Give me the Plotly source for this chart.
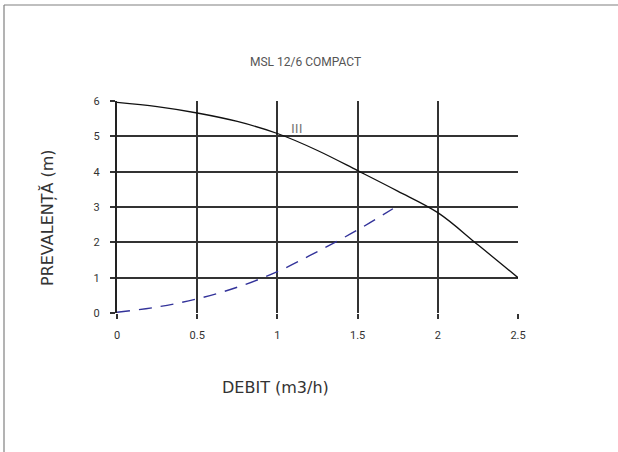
import plotly.graph_objects as go

# Data
pump_x = [0, 0.25, 0.5, 0.75, 1.0, 1.25, 1.5, 1.75, 2.0, 2.25, 2.5]
pump_y = [5.96, 5.84, 5.66, 5.42, 5.08, 4.60, 4.03, 3.45, 2.84, 1.93, 1.0]

sys_x = [0, 0.25, 0.5, 0.75, 1.0, 1.25, 1.5, 1.72]
sys_y = [0.02, 0.17, 0.40, 0.73, 1.17, 1.74, 2.35, 2.95]

x_ticks = [0, 0.5, 1, 1.5, 2, 2.5]
x_tick_labels = ["0", "0.5", "1", "1.5", "2", "2.5"]
y_ticks = [0, 1, 2, 3, 4, 5, 6]

chart_title = "MSL 12/6 COMPACT"
x_title = "DEBIT (m3/h)"
y_title = "PREVALENȚĂ (m)"
curve_label = "III"

fig = go.Figure()
fig.add_trace(go.Scatter(x=sys_x, y=sys_y, mode="lines",
                         line=dict(color="#33339a", width=1.4, dash="13px,9px", shape="spline"),
                         showlegend=False, hoverinfo="skip"))
fig.add_trace(go.Scatter(x=pump_x, y=pump_y, mode="lines",
                         line=dict(color="#111111", width=1.3, shape="spline"),
                         showlegend=False, hoverinfo="skip"))

grid = "#333333"
tickfont = dict(family="Roboto", size=11, color="#333333")
fig.update_xaxes(range=[0, 2.5], tickvals=x_ticks, ticktext=x_tick_labels,
                 showgrid=True, gridcolor=grid, gridwidth=1.5,
                 zeroline=False, showline=False,
                 ticks="outside", ticklen=5, tickwidth=1.5, tickcolor=grid,
                 ticklabelstandoff=7,
                 tickfont=tickfont, fixedrange=True)
fig.update_yaxes(range=[0, 6], tickvals=y_ticks,
                 showgrid=True, gridcolor=grid, gridwidth=1.5,
                 zeroline=False, showline=True, linecolor="#222222", linewidth=2,
                 ticks="outside", ticklen=5, tickwidth=1.5, tickcolor=grid,
                 ticklabelstandoff=8,
                 tickfont=tickfont, fixedrange=True)

L, R, T, B = 117, 100, 101, 139
W, H = 618, 452
pw, ph = W - L - R, H - T - B

def px(x):
    return (x - L) / pw

def py(y):
    return (H - B - y) / ph

annotations = [
    dict(x=px(305.5), y=py(62), xref="paper", yref="paper", text=chart_title,
         xanchor="center", yanchor="middle",
         showarrow=False, font=dict(family="Roboto", size=12, color="#555555")),
    dict(x=px(275), y=py(387), xref="paper", yref="paper", text=x_title,
         xanchor="center", yanchor="middle",
         showarrow=False, font=dict(family="DejaVu Sans", size=16, color="#333333")),
    dict(x=px(47), y=py(218), xref="paper", yref="paper", text=y_title, textangle=-90,
         xanchor="center", yanchor="middle",
         showarrow=False, font=dict(family="DejaVu Sans", size=16, color="#333333")),
    dict(x=1.12, y=5.23, xref="x", yref="y", text=curve_label,
         xanchor="center", yanchor="middle",
         showarrow=False, font=dict(family="DejaVu Sans", size=13, color="#777777")),
]

shapes = [
    dict(type="line", xref="paper", yref="paper", x0=px(4), x1=px(4), y0=py(5), y1=py(460),
         line=dict(color="#808080", width=1.2)),
    dict(type="line", xref="paper", yref="paper", x0=px(4), x1=px(630), y0=py(5), y1=py(5),
         line=dict(color="#808080", width=1.2)),
]

fig.update_layout(width=W, height=H, margin=dict(l=L, r=R, t=T, b=B),
                  paper_bgcolor="white", plot_bgcolor="white",
                  annotations=annotations, shapes=shapes, showlegend=False)

fig.write_html("out.html", config={"displayModeBar": False},
               post_script="document.body.style.margin='0';document.body.style.overflow='hidden';")
